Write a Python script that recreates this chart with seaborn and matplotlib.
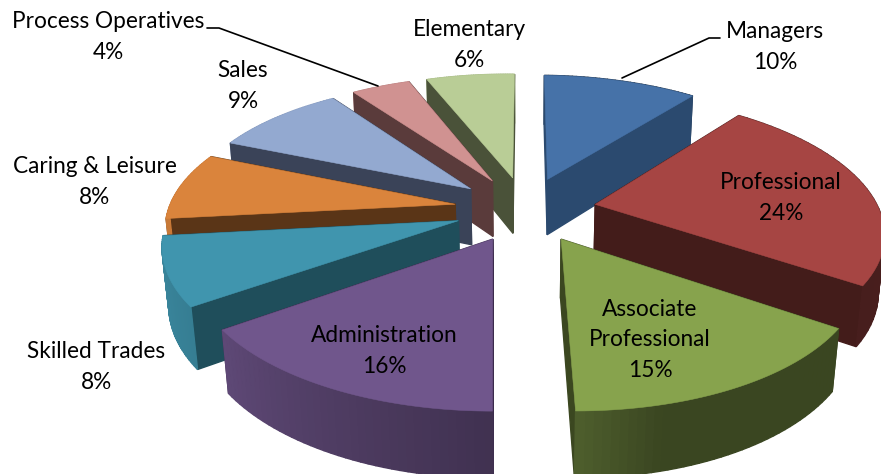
"""
Exploded 3D pie of occupation shares, projected by hand since seaborn has no 3D pie.
"""

import numpy as np
import matplotlib
matplotlib.use("Agg")
import matplotlib.pyplot as plt
import seaborn as sns

categories = ["Managers", "Professional", "Associate\nProfessional", "Administration",
              "Skilled Trades", "Caring & Leisure", "Sales", "Process Operatives", "Elementary"]
shares = [10.4, 23.9, 15.4, 15.2, 8.0, 8.1, 9.0, 4.0, 6.0]
share_labels = ["10%", "24%", "15%", "16%", "8%", "8%", "9%", "4%", "6%"]
top_colors = ["#4672a8", "#a64543", "#87a34d", "#70568c", "#4095ae",
              "#da843c", "#93a9d0", "#d09291", "#b9cd96"]
side_colors = ["#2b4a6f", "#431c1a", "#3b4720", "#3b2b4c", "#1f4e5b",
               "#5a3517", "#3a4358", "#5a3b3b", "#4a5239"]
label_centres = [(775, 47), (781, 198), (650, 340), (384, 351), (96, 367),
                 (95, 182), (243, 86), (108, 37), (469, 45)]

# projection settings, tuned against the picture
CX, CY = 525.5, 209
AX_X, AX_Y, DEPTH = 285, 131, 58
PERSP, PERSP_Z, EXPLODE = 0.17, 0.018, 0.25
TILT = 0.011


def project(u, v, z):
    s = 1 / (1 + PERSP * np.asarray(v) + PERSP_Z * z)
    dx = AX_X * np.asarray(u) * s
    return CX + dx, CY + (-AX_Y * np.asarray(v) + DEPTH * z) * s + TILT * dx


def wall_shade(theta):
    # outer wall is lit from the left
    return np.interp(theta, [0, 120, 165, 178, 205, 235, 265, 360],
                     [0.46, 0.43, 0.43, 0.57, 0.7, 0.85, 0.92, 0.92])


def draw_wedge(ax, start, stop, top, side):
    mid = np.radians((start + stop) / 2)
    au, av = EXPLODE * np.sin(mid), EXPLODE * np.cos(mid)
    theta = np.linspace(start, stop, 40)
    u = au + np.sin(np.radians(theta))
    v = av + np.cos(np.radians(theta))

    faces = []
    for idx in (0, -1):
        xs, ys = project([au, u[idx]], [av, v[idx]], 0)
        xb, yb = project([au, u[idx]], [av, v[idx]], 1)
        pts = np.r_[xs, xb[::-1]], np.r_[ys, yb[::-1]]
        faces.append(((av + v[idx]) / 2, pts, side))
    for i in range(len(theta) - 1):
        xs, ys = project(u[i:i + 2], v[i:i + 2], 0)
        xb, yb = project(u[i:i + 2], v[i:i + 2], 1)
        pts = np.r_[xs, xb[::-1]], np.r_[ys, yb[::-1]]
        shade = wall_shade((theta[i] + theta[i + 1]) / 2)
        col = tuple(np.array(matplotlib.colors.to_rgb(top)) * shade)
        faces.append((v[i], pts, col))

    for _, pts, col in sorted(faces, key=lambda f: -f[0]):
        ax.fill(pts[0], pts[1], color=col, lw=1.0, zorder=1)

    xt, yt = project(np.r_[au, u], np.r_[av, v], 0)
    ax.fill(xt, yt, color=top, lw=0.4, zorder=1)


def main():
    sns.set_theme(style="white")
    plt.rcParams["font.family"] = ["Lato", "DejaVu Sans"]

    fig = plt.figure(figsize=(8.81, 4.74), dpi=100)
    ax = fig.add_axes([0, 0, 1, 1])
    ax.set_xlim(0, 881)
    ax.set_ylim(474, 0)
    ax.axis("off")

    edges = np.r_[0, np.cumsum(shares)] * 3.6
    mids = np.radians((edges[:-1] + edges[1:]) / 2)
    order = np.argsort(-np.cos(mids))
    for i in order:
        draw_wedge(ax, edges[i], edges[i + 1], top_colors[i], side_colors[i])

    # leader lines
    ax.plot([622, 709, 720], [78, 38, 38], color="black", lw=1.2, zorder=2)
    ax.plot([378, 219, 207], [86, 28, 28], color="black", lw=1.2, zorder=2)

    for name, share, (x, y) in zip(categories, share_labels, label_centres):
        ax.text(x, y, f"{name}\n{share}", ha="center", va="center", fontsize=16.3,
                linespacing=1.53, color="black", zorder=3)

    fig.savefig("out.png", dpi=100)


if __name__ == "__main__":
    main()
